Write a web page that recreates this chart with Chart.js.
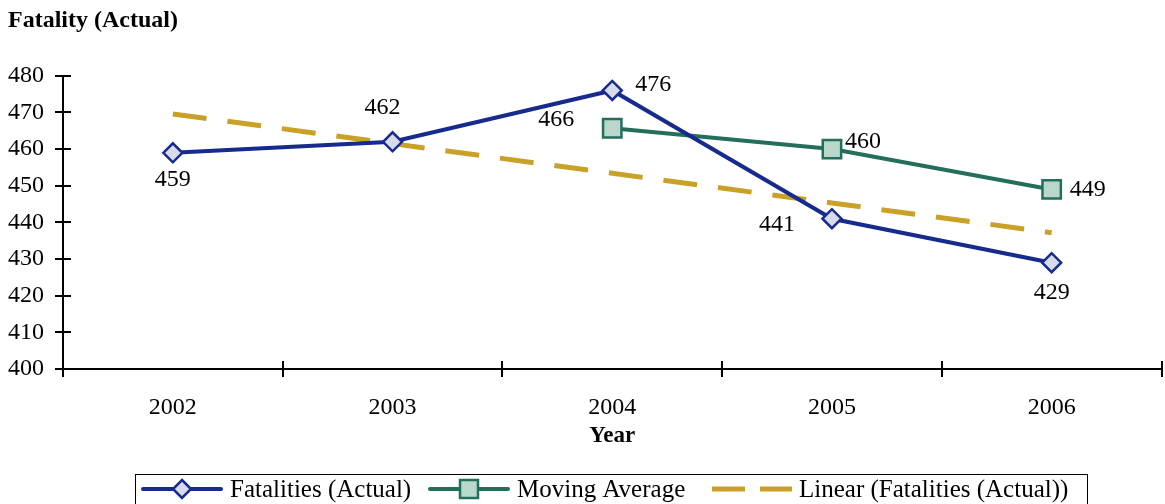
<!DOCTYPE html>
<html>
<head>
<meta charset="utf-8">
<script src="https://cdn.jsdelivr.net/npm/chart.js@4"></script>
<style>
  html, body { margin: 0; padding: 0; background: #fff; overflow: hidden; }
  #wrap { width: 1177px; height: 504px; position: relative; }
</style>
</head>
<body>
<div id="wrap"><canvas id="chart"></canvas></div>
<script>
const years = ["2002", "2003", "2004", "2005", "2006"];
const fatalities = [459, 462, 476, 441, 429];
const movingAvg = [null, null, 465.7, 460, 449];
const linearTrend = [469.6, 461.5, 453.4, 445.3, 437.2];
const yTicks = [400, 410, 420, 430, 440, 450, 460, 470, 480];

const FONT = "'Palatino Linotype', 'Book Antiqua', Palatino, 'Liberation Serif', serif";
const BLUE = "#172a8e";
const GREEN = "#236f5b";
const GOLD = "#c9a129";

// label offsets from each point (px)
const fatalOffsets = [[0, 27], [-10, -34], [41, -6], [-55, 6], [0, 30]];
const avgOffsets = [null, null, [-56, -9], [31, -7], [36, 0]];

// crossing tick marks on both axes + x axis title
const axisTicks = {
  id: "axisTicks",
  afterDraw(chart) {
    const { ctx, chartArea: a, scales } = chart;
    ctx.save();
    ctx.strokeStyle = "#000";
    ctx.lineWidth = 2;
    yTicks.forEach(v => {
      const y = Math.round(scales.y.getPixelForValue(v));
      ctx.beginPath();
      ctx.moveTo(a.left - 8, y);
      ctx.lineTo(a.left + 8, y);
      ctx.stroke();
    });
    for (let i = 0; i <= years.length; i++) {
      const x = Math.round(scales.x.getPixelForValue(i - 0.5));
      ctx.beginPath();
      ctx.moveTo(x, a.bottom - 8);
      ctx.lineTo(x, a.bottom + 8);
      ctx.stroke();
    }
    ctx.fillStyle = "#000";
    ctx.font = "bold 23px " + FONT;
    ctx.textAlign = "center";
    ctx.textBaseline = "middle";
    ctx.fillText("Year", (a.left + a.right) / 2, a.bottom + 67);
    ctx.restore();
  }
};

// value labels next to points
const valueLabels = {
  id: "valueLabels",
  afterDatasetsDraw(chart) {
    const ctx = chart.ctx;
    ctx.save();
    ctx.font = "24px " + FONT;
    ctx.fillStyle = "#000";
    ctx.textAlign = "center";
    ctx.textBaseline = "middle";
    const sets = [[0, fatalities, fatalOffsets], [1, movingAvg, avgOffsets]];
    sets.forEach(([di, vals, offs]) => {
      const meta = chart.getDatasetMeta(di);
      vals.forEach((v, i) => {
        if (v == null) return;
        const p = meta.data[i];
        ctx.fillText(String(Math.round(v)), p.x + offs[i][0], p.y + offs[i][1]);
      });
    });
    ctx.restore();
  }
};

// boxed legend at the bottom, line + marker like the original
const boxLegend = {
  id: "boxLegend",
  afterDraw(chart) {
    const ctx = chart.ctx;
    const cy = 489;
    ctx.save();
    ctx.font = "25px " + FONT;
    ctx.textBaseline = "middle";
    ctx.textAlign = "left";
    const items = [
      { x: 143, text: "Fatalities (Actual)", color: BLUE, marker: "diamond", fill: "#d7dbec" },
      { x: 430, text: "Moving Average", color: GREEN, marker: "square", fill: "#b9d7ca" },
      { x: 712, text: "Linear (Fatalities (Actual))", color: GOLD, marker: null }
    ];
    items.forEach(it => {
      ctx.strokeStyle = it.color;
      ctx.lineCap = "round";
      ctx.lineWidth = 4;
      if (it.marker) {
        ctx.setLineDash([]);
        ctx.beginPath();
        ctx.moveTo(it.x, cy);
        ctx.lineTo(it.x + 78, cy);
        ctx.stroke();
      } else {
        ctx.lineCap = "butt";
        ctx.lineWidth = 5;
        ctx.setLineDash([33, 15]);
        ctx.beginPath();
        ctx.moveTo(it.x, cy);
        ctx.lineTo(it.x + 80, cy);
        ctx.stroke();
        ctx.setLineDash([]);
      }
      const mx = it.x + 39;
      ctx.lineWidth = 2.5;
      ctx.fillStyle = it.fill;
      if (it.marker === "diamond") {
        ctx.beginPath();
        ctx.moveTo(mx, cy - 9);
        ctx.lineTo(mx + 9, cy);
        ctx.lineTo(mx, cy + 9);
        ctx.lineTo(mx - 9, cy);
        ctx.closePath();
        ctx.fill();
        ctx.stroke();
      } else if (it.marker === "square") {
        ctx.fillRect(mx - 9, cy - 9, 18, 18);
        ctx.strokeRect(mx - 9, cy - 9, 18, 18);
      }
      ctx.fillStyle = "#000";
      ctx.fillText(it.text, it.x + 87, cy + 1);
    });
    ctx.strokeStyle = "#000";
    ctx.lineWidth = 1;
    ctx.strokeRect(135.5, 474.5, 952, 40);
    ctx.restore();
  }
};

new Chart(document.getElementById("chart"), {
  type: "line",
  data: {
    labels: years,
    datasets: [
      {
        label: "Fatalities (Actual)",
        data: fatalities,
        borderColor: BLUE,
        borderWidth: 4,
        pointStyle: "rectRot",
        pointRadius: 9.5,
        pointBorderWidth: 2.5,
        pointBackgroundColor: "#d7dbec",
        pointBorderColor: BLUE,
        tension: 0,
        order: 1
      },
      {
        label: "Moving Average",
        data: movingAvg,
        borderColor: GREEN,
        borderWidth: 4,
        pointStyle: "rect",
        pointRadius: 13,
        pointBorderWidth: 2.5,
        pointBackgroundColor: "#b9d7ca",
        pointBorderColor: GREEN,
        spanGaps: false,
        tension: 0,
        order: 2
      },
      {
        label: "Linear (Fatalities (Actual))",
        data: linearTrend,
        borderColor: GOLD,
        borderWidth: 5,
        borderDash: [34, 21],
        pointRadius: 0,
        tension: 0,
        order: 3
      }
    ]
  },
  options: {
    responsive: true,
    maintainAspectRatio: false,
    animation: false,
    layout: { padding: { left: 8, right: 2, top: 0, bottom: 0 } },
    plugins: {
      legend: { display: false },
      tooltip: { enabled: false },
      title: {
        display: true,
        text: "Fatality (Actual)",
        align: "start",
        color: "#000",
        font: { family: FONT, size: 24, weight: "bold" },
        padding: { top: 6, bottom: 41 }
      }
    },
    scales: {
      x: {
        offset: true,
        grid: { display: false, drawTicks: false },
        border: { display: true, color: "#000", width: 2 },
        ticks: { color: "#000", font: { family: FONT, size: 24 }, padding: 24 },
        afterFit: (s) => { s.height = 135; }
      },
      y: {
        min: 400,
        max: 480,
        afterBuildTicks: (s) => { s.ticks = yTicks.map(v => ({ value: v })); },
        grid: { display: false, drawTicks: false },
        border: { display: true, color: "#000", width: 2 },
        ticks: { color: "#000", font: { family: FONT, size: 24 }, padding: 19 },
        afterFit: (s) => { s.width = 55; }
      }
    }
  },
  plugins: [axisTicks, valueLabels, boxLegend]
});
</script>
</body>
</html>
